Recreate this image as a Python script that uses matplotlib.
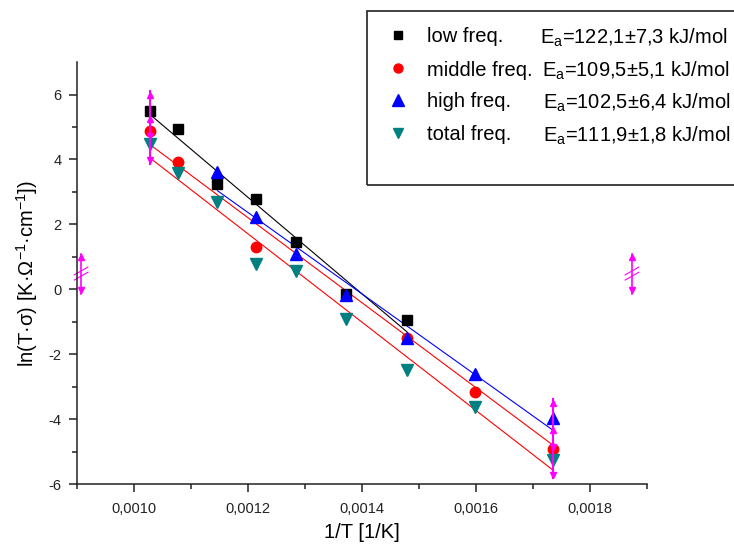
import numpy as np
import matplotlib
matplotlib.use("Agg")
import matplotlib.pyplot as plt
from matplotlib.patches import Rectangle

plt.rcParams['font.family'] = ['Liberation Sans', 'DejaVu Sans']
plt.rcParams['mathtext.fontset'] = 'custom'
plt.rcParams['mathtext.rm'] = 'Liberation Sans'
plt.rcParams['mathtext.it'] = 'Liberation Sans:italic'
plt.rcParams['mathtext.bf'] = 'Liberation Sans:bold'
plt.rcParams['axes.unicode_minus'] = False

# ---- data ----
low_x = [0.001027, 0.001077, 0.001146, 0.001214, 0.001283, 0.001372, 0.001479]
low_y = [5.48, 4.94, 3.26, 2.78, 1.45, -0.15, -0.96]

mid_x = [0.001027, 0.001077, 0.001214, 0.001479, 0.001597, 0.001735]
mid_y = [4.88, 3.91, 1.29, -1.50, -3.15, -4.91]

high_x = [0.001146, 0.001214, 0.001283, 0.001372, 0.001479, 0.001597, 0.001735]
high_y = [3.60, 2.22, 1.09, -0.17, -1.50, -2.60, -3.96]

tot_x = [0.001027, 0.001077, 0.001146, 0.001214, 0.001283, 0.001372, 0.001479, 0.001597, 0.001735]
tot_y = [4.47, 3.57, 2.70, 0.78, 0.55, -0.91, -2.48, -3.63, -5.25]

# linear fit line endpoints (x_start, x_end), (y_start, y_end)
fit_low_x, fit_low_y = [0.001027, 0.001479], [5.40, -1.32]
fit_mid_x, fit_mid_y = [0.001027, 0.001735], [4.47, -4.81]
fit_high_x, fit_high_y = [0.001146, 0.001735], [3.04, -4.35]
fit_tot_x, fit_tot_y = [0.001027, 0.001735], [4.06, -5.58]

labels = ['low freq.', 'middle freq.', 'high freq.', 'total freq.']
energies = [r'E$_{\mathrm{a}}$=122,1±7,3 kJ/mol',
            r'E$_{\mathrm{a}}$=109,5±5,1 kJ/mol',
            r'E$_{\mathrm{a}}$=102,5±6,4 kJ/mol',
            r'E$_{\mathrm{a}}$=111,9±1,8 kJ/mol']

x_ticks = [0.0010, 0.0012, 0.0014, 0.0016, 0.0018]
x_ticklabels = ['0,0010', '0,0012', '0,0014', '0,0016', '0,0018']
y_ticks = [-6, -4, -2, 0, 2, 4, 6]

# data-range marker positions (Origin selectors) and axis break marks
range_x = [0.001027, 0.001735]
range_lo = [3.86, -5.83]
range_hi = [6.11, -3.37]
break_x = [0.000907, 0.001873]
break_lo = [-0.13, -0.13]
break_hi = [1.10, 1.10]

# ---- figure ----
fig = plt.figure(figsize=(7.34, 5.5), dpi=100)
ax = fig.add_axes([0.105, 0.12, 0.777, 0.767])

ax.plot(fit_low_x, fit_low_y, color='black', lw=0.8)
ax.plot(fit_mid_x, fit_mid_y, color='red', lw=0.8)
ax.plot(fit_high_x, fit_high_y, color='blue', lw=0.8)
ax.plot(fit_tot_x, fit_tot_y, color='red', lw=0.8)

ax.plot(low_x, low_y, 's', color='black', ms=7, mec='black')
ax.plot(mid_x, mid_y, 'o', color='red', ms=7.5, mec='red')
ax.plot(high_x, high_y, '^', color='blue', ms=8.5, mec='blue')
ax.plot(tot_x, tot_y, 'v', color='#008080', ms=8.5, mec='#008080')

mag = '#FF00FF'
for x, lo, hi in zip(range_x, range_lo, range_hi):
    ax.plot([x, x], [lo, hi], color=mag, lw=1.5, clip_on=False)
    ax.plot([x], [hi - 0.12], '^', color=mag, ms=5, clip_on=False)
    ax.plot([x], [lo + 0.12], 'v', color=mag, ms=5, clip_on=False)
    mid = (lo + hi) / 2
    ax.plot([x], [mid + 0.25], '^', color=mag, ms=4, clip_on=False)
    ax.plot([x], [mid - 0.25], 'v', color=mag, ms=4, clip_on=False)

for x, lo, hi in zip(break_x, break_lo, break_hi):
    ax.plot([x, x], [lo, hi], color=mag, lw=1.2, clip_on=False)
    ax.plot([x], [hi - 0.1], '^', color=mag, ms=5, clip_on=False)
    ax.plot([x], [lo + 0.1], 'v', color=mag, ms=5, clip_on=False)
    c = (lo + hi) / 2
    dx, dy = 1.2e-5, 0.12
    for off in (-0.08, 0.08):
        ax.plot([x - dx, x + dx], [c - dy + off, c + dy + off], color=mag, lw=0.8, clip_on=False)

ax.set_xlim(0.0009, 0.0019)
ax.set_ylim(-6, 7)
ax.set_xticks(x_ticks)
ax.set_xticklabels(x_ticklabels)
ax.set_xticks(np.arange(0.0009, 0.00191, 0.0001), minor=True)
ax.set_yticks(y_ticks)
ax.set_yticklabels([str(v) for v in y_ticks])
ax.set_yticks(np.arange(-5, 7, 2), minor=True)

for s in ('top', 'right'):
    ax.spines[s].set_visible(False)
for s in ('left', 'bottom'):
    ax.spines[s].set_linewidth(1.1)
    ax.spines[s].set_color('#222222')

ax.tick_params(axis='both', which='major', direction='out', length=6, width=1.1,
               labelsize=10.5, colors='#222222')
ax.tick_params(axis='both', which='minor', direction='out', length=3.5, width=1.1,
               colors='#222222')
ax.tick_params(axis='x', which='major', pad=7)
ax.tick_params(axis='y', which='major', pad=5)

ax.set_xlabel('1/T [1/K]', fontsize=14.5, labelpad=5)
ax.set_ylabel(r'ln(T·σ) [K·Ω$^{\mathrm{-1}}$·cm$^{\mathrm{-1}}$])', fontsize=14.5, labelpad=6)

# legend box extending beyond right edge
fig.add_artist(Rectangle((0.4996, 0.6636), 0.6, 0.317, transform=fig.transFigure,
                         fill=False, lw=1.3, ec='#333333'))
leg_y = [0.9364, 0.8758, 0.8182, 0.7582]
leg_marker = ['s', 'o', '^', 'v']
leg_color = ['black', 'red', 'blue', '#008080']
leg_ms = [6, 6.5, 8, 7.5]
e_x = [0.7357, 0.7380, 0.7398, 0.7398]
for yy, lab, en, mk, col, ms, ex in zip(leg_y, labels, energies, leg_marker, leg_color, leg_ms, e_x):
    fig.add_artist(plt.Line2D([0.5418], [yy], marker=mk, color=col, ms=ms, ls='none',
                              transform=fig.transFigure))
    fig.text(0.5813, yy, lab, fontsize=14.5, va='center_baseline', ha='left')
    fig.text(ex, yy, en, fontsize=14.5, va='center_baseline', ha='left')

fig.savefig('out.png', dpi=100)
